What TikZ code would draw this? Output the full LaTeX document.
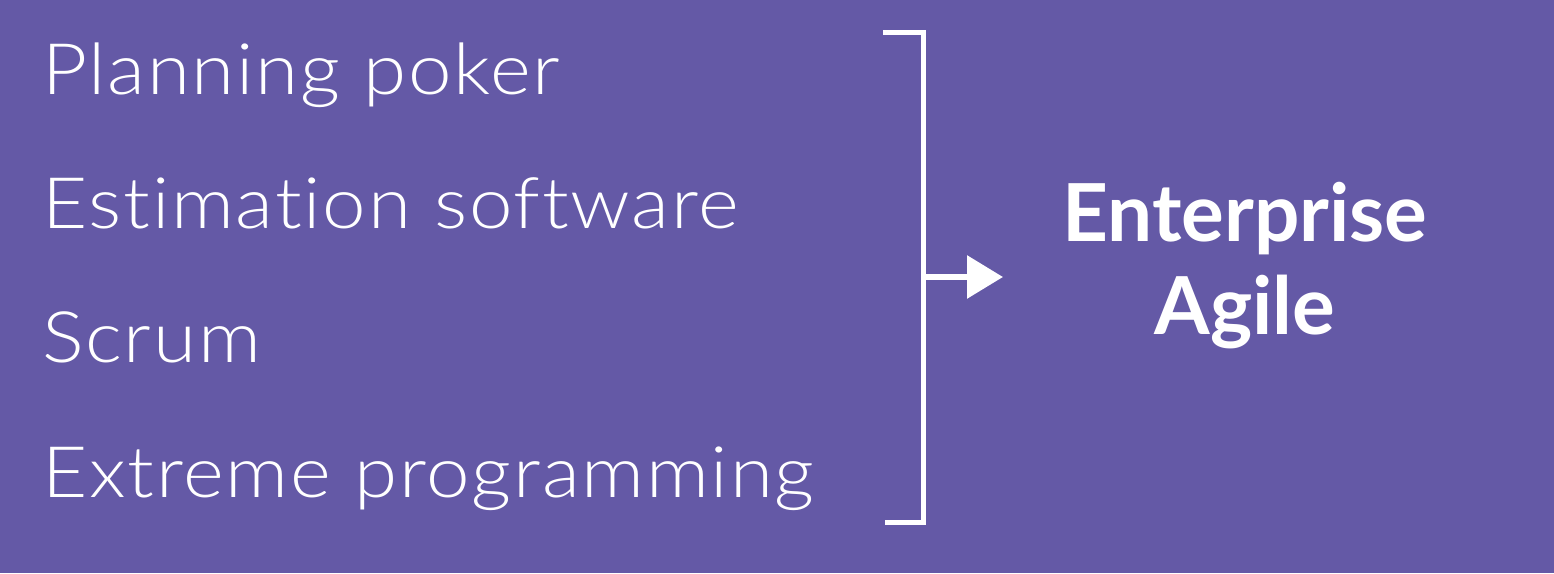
\documentclass[tikz,border=0pt]{standalone}
\usepackage{fontspec}
\setmainfont{Lato}[UprightFont={* Light},BoldFont={* Bold}]
\newfontfamily\itemfont{Lato}[UprightFont={* Light},FakeStretch=1.1,LetterSpace=2.5,Ligatures={NoCommon}]
\usetikzlibrary{arrows.meta}
\definecolor{bgpurple}{RGB}{100,89,166}
\tikzset{
  item/.style={anchor=base west,inner sep=0pt,text=white,font=\itemfont\fontsize{71}{76}\selectfont},
  result/.style={anchor=base,inner sep=0pt,text=white,align=center,font=\bfseries\fontsize{80}{93}\selectfont},
  bracketline/.style={draw=white,line width=5pt,miter limit=10},
  arrowline/.style={draw=white,line width=6pt,-{Triangle[length=36pt,width=42pt]}}
}
\begin{document}
\begin{tikzpicture}[x=1pt,y=1pt]
\fill[bgpurple] (0,0) rectangle (1554,573);
\useasboundingbox (0,0) rectangle (1554,573);
\node[item] (p1) at (42,{573-95}) {Planning poker};
\node[item] (p2) at (42,{573-229}) {Estimation software};
\node[item] (p3) at (42,{573-363}) {Scrum};
\node[item] (p4) at (42,{573-497}) {Extreme programming};
\node[result] (ea) at (1245,{573-335}) {Enterprise\\Agile};
\coordinate (bt0) at (883,{573-33});
\coordinate (bt) at (923,{573-33});
\coordinate (bb) at (923,{573-522});
\coordinate (bb0) at (885,{573-522});
\coordinate (bm) at (923,{573-277});
\coordinate (tip) at (1003,{573-277});
\draw[bracketline] (bt0) -- (bt) -- (bb) -- (bb0);
\draw[arrowline] (bm) -- (tip);
\end{tikzpicture}
\end{document}
